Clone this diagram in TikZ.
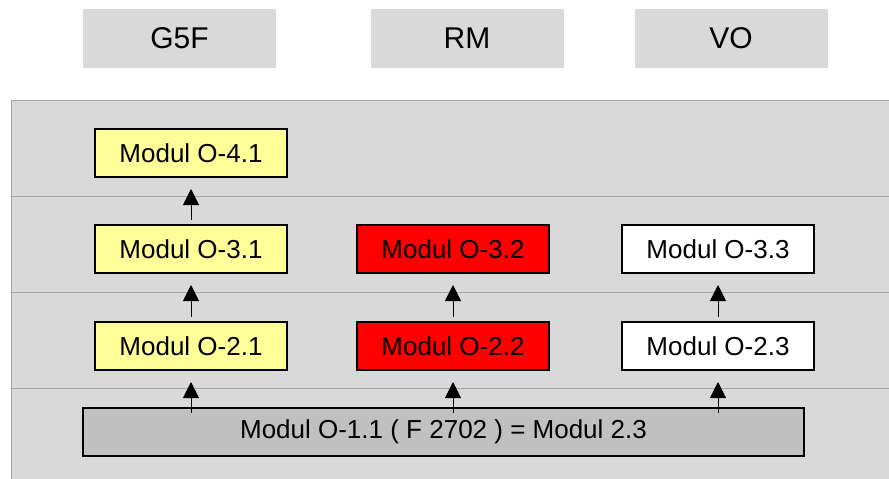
\documentclass[tikz,border=0pt]{standalone}
\usepackage{fontspec}
\setmainfont{Liberation Sans}
\usetikzlibrary{positioning,arrows.meta}
\definecolor{panelgray}{HTML}{D9D9D9}
\definecolor{lightyellow}{HTML}{FFFF99}
\definecolor{boxgray}{HTML}{C0C0C0}
\definecolor{linegray}{HTML}{A6A6A6}

\begin{document}
\begin{tikzpicture}[x=1pt, y=-1pt,
  modul/.style={draw=black, line width=2pt, minimum width=192pt, minimum height=48pt, inner sep=0pt, font=\fontsize{26}{30}\selectfont},
  head/.style={fill=panelgray, minimum width=193pt, minimum height=59pt, inner sep=0pt, font=\fontsize{30}{34}\selectfont},
  arr/.style={-{Triangle[width=16pt,length=16pt]}, line width=1pt, shorten <=4pt, shorten >=11pt}]
\useasboundingbox (0,0) rectangle (889,479);

% panel with rows
\fill[panelgray] (11,100) rectangle (889,479);
\draw[linegray] (11,479) -- (11,100) -- (889,100);
\draw[linegray] (11,196) -- (889,196);
\draw[linegray] (11,292) -- (889,292);
\draw[linegray] (11,388) -- (889,388);

% headers
\node[head] (G5F) at (179.5, 38.5) {G5F};
\node[head] (RM) at (467, 38.5) {RM};
\node[head] (VO) at (731, 38.5) {VO};

% modules
\node[modul, fill=lightyellow] (O41) at (191, 153) {Modul O-4.1};
\node[modul, fill=lightyellow] (O31) at (191, 249) {Modul O-3.1};
\node[modul, fill=lightyellow] (O21) at (191, 346) {Modul O-2.1};
\node[modul, fill=red] (O32) at (453, 249) {Modul O-3.2};
\node[modul, fill=red] (O22) at (453, 346) {Modul O-2.2};
\node[modul, fill=white] (O33) at (718, 249) {Modul O-3.3};
\node[modul, fill=white] (O23) at (718, 346) {Modul O-2.3};
\node[modul, fill=boxgray, minimum width=721pt] (O11) at (443.5, 431.5) {Modul O-1.1 ( F 2702 ) = Modul 2.3};

\draw[arr] (O31) -- (O41);
\draw[arr] (O21) -- (O31);
\draw[arr] (O22) -- (O32);
\draw[arr] (O23) -- (O33);
\draw[arr, shorten <=-6pt] (O11.north -| O21) -- (O21);
\draw[arr, shorten <=-6pt] (O11.north -| O22) -- (O22);
\draw[arr, shorten <=-6pt] (O11.north -| O23) -- (O23);
\end{tikzpicture}
\end{document}
